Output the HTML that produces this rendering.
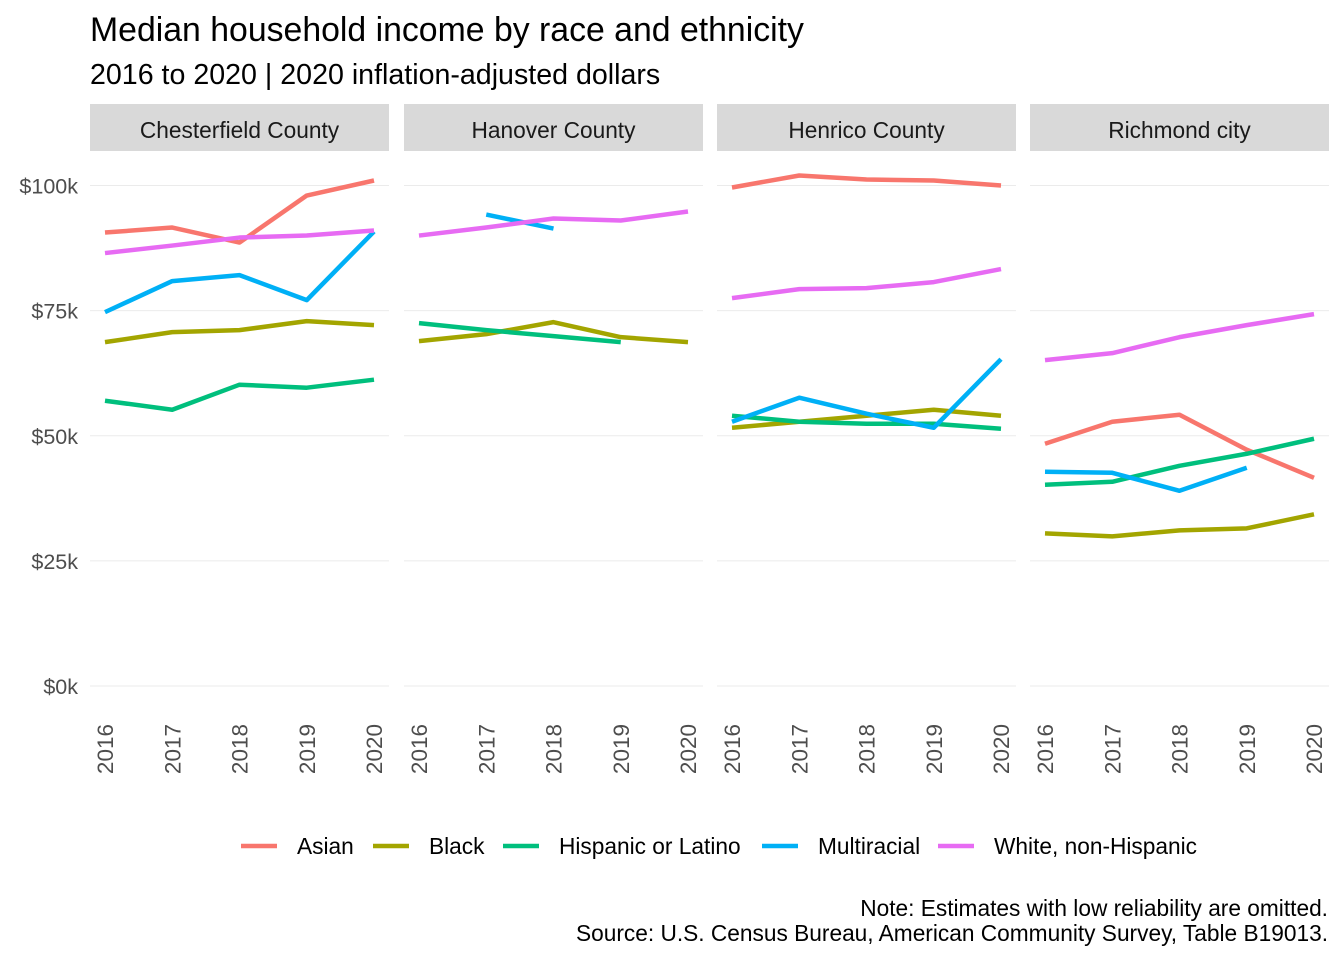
<!DOCTYPE html>
<html><head><meta charset="utf-8"><style>
body{margin:0;background:#fff;font-family:"Liberation Sans",Arial,sans-serif}
svg text{font-family:"Liberation Sans",Arial,sans-serif}
</style></head><body>
<svg id="chart" width="1344" height="960">
<text x="90" y="41" font-size="33.8" fill="#000">Median household income by race and ethnicity</text>
<text x="90" y="84" font-size="28.6" fill="#000">2016 to 2020 | 2020 inflation-adjusted dollars</text>
<g id="panels"></g>
<g id="legend"></g>
<text x="1328" y="916" font-size="22.7" text-anchor="end" fill="#000">Note: Estimates with low reliability are omitted.</text>
<text x="1328" y="941" font-size="22.7" text-anchor="end" fill="#000">Source: U.S. Census Bureau, American Community Survey, Table B19013.</text>
</svg>
<script>
const panelNames=["Chesterfield County","Hanover County","Henrico County","Richmond city"];
const years=[2016,2017,2018,2019,2020];
const seriesNames=["Asian","Black","Hispanic or Latino","Multiracial","White, non-Hispanic"];
const yTicks=[0,25,50,75,100];
const yTickLabels=["$0k","$25k","$50k","$75k","$100k"];
const chesterfield=[[90.6,91.6,88.6,98,101],[68.7,70.7,71.1,72.9,72.1],[57,55.2,60.2,59.6,61.2],[74.7,80.9,82.1,77.1,90.8],[86.5,88,89.6,90,91]];
const hanover=[[null,null,null,null,null],[68.9,70.3,72.7,69.7,68.7],[72.5,71.1,69.9,68.7,null],[null,94.2,91.4,null,null],[90,91.6,93.4,93,94.8]];
const henrico=[[99.6,102,101.2,101,100],[51.6,52.8,54,55.2,54],[54,52.8,52.4,52.4,51.4],[52.8,57.6,54.4,51.6,65.3],[77.5,79.3,79.5,80.7,83.3]];
const richmond=[[48.4,52.8,54.2,47.2,41.6],[30.5,29.9,31.1,31.5,34.3],[40.2,40.8,44,46.4,49.4],[42.8,42.6,39,43.6,null],[65.1,66.5,69.7,72.1,74.3]];
const panelData=[chesterfield,hanover,henrico,richmond];
const colors=["#F8766D","#A3A500","#00BF7D","#00B0F6","#E76BF3"];
const NS="http://www.w3.org/2000/svg";
const panelLeft=[90,404,717,1030], panelW=299;
function xPos(p,i){return panelLeft[p]+15+i*(panelW-30)/(years.length-1);}
function yPos(v){return 686-v*5.005;}
function mk(tag,attrs,parent){const e=document.createElementNS(NS,tag);for(const k in attrs)e.setAttribute(k,attrs[k]);parent.appendChild(e);return e;}
const g=document.getElementById('panels');
yTicks.forEach((t,k)=>{
  const tx=mk('text',{x:78,y:yPos(t)+8,'font-size':21.5,'text-anchor':'end',fill:'#4d4d4d'},g);
  tx.textContent=yTickLabels[k];
  
  
});
panelData.forEach((pd,p)=>{
  const pg=mk('g',{},g);
  
  
  const strip=mk('rect',{x:panelLeft[p],y:104,width:panelW,height:47,fill:'#d9d9d9'},pg);
  
  
  const st=mk('text',{x:panelLeft[p]+panelW/2,y:138,'font-size':22.7,'text-anchor':'middle',fill:'#1a1a1a'},pg);
  st.textContent=panelNames[p];
  
  
  yTicks.forEach(t=>{
    const gl=mk('line',{x1:panelLeft[p],x2:panelLeft[p]+panelW,y1:yPos(t),y2:yPos(t),stroke:'#ebebeb','stroke-width':1},pg);
    
    
  });
  years.forEach((yr,i)=>{
    const x=xPos(p,i);
    const tx=mk('text',{x:0,y:0,'font-size':22.5,'text-anchor':'end',fill:'#4d4d4d',transform:`translate(${x+8},724) rotate(-90)`},pg);
    tx.textContent=yr;
    
    
  });
  pd.forEach((vals,s)=>{
    let pts=[];
    const segs=[];
    vals.forEach((v,i)=>{if(v==null){if(pts.length)segs.push(pts);pts=[];}else pts.push(xPos(p,i)+','+yPos(v));});
    if(pts.length)segs.push(pts);
    segs.forEach(sg=>{
      if(sg.length<2)return;
      const pl=mk('polyline',{points:sg.join(' '),fill:'none',stroke:colors[s],'stroke-width':4.5,'stroke-linejoin':'round'},pg);
      
      
    });
  });
});
const lg=document.getElementById('legend');
const legX=[241,373,503,762,938];
seriesNames.forEach((n,s)=>{
  const e=mk('g',{},lg);
  
  
  mk('line',{x1:legX[s],x2:legX[s]+36,y1:846,y2:846,stroke:colors[s],'stroke-width':4.5},e);
  const t=mk('text',{x:legX[s]+56,y:854,'font-size':22.7,fill:'#000'},e);
  t.textContent=n;
});
</script>
</body></html>
